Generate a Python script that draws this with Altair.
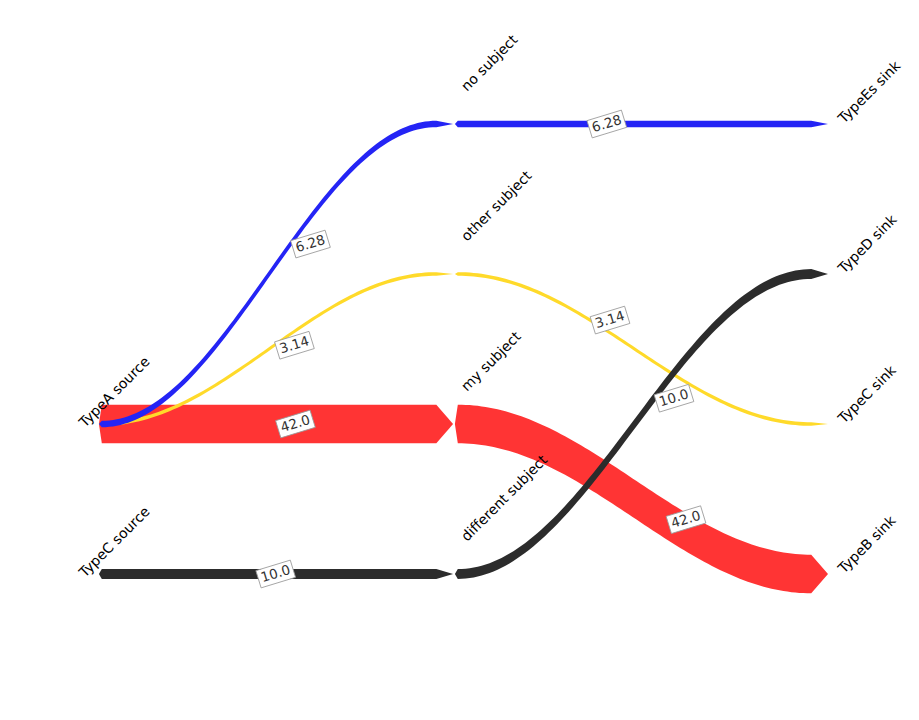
import altair as alt
import pandas as pd
import numpy as np

# ---------------- data ----------------
source_nodes = ["TypeA source", "TypeC source"]
source_rows = [2, 3]
middle_nodes = ["no subject", "other subject", "my subject", "different subject"]
middle_rows = [0, 1, 2, 3]
sink_nodes = ["TypeEs sink", "TypeD sink", "TypeC sink", "TypeB sink"]
sink_rows = [0, 1, 2, 3]

stage1_from = ["TypeA source", "TypeA source", "TypeA source", "TypeC source"]
stage1_to = ["no subject", "other subject", "my subject", "different subject"]
stage1_values = [6.28, 3.14, 42.0, 10.0]

stage2_from = ["no subject", "other subject", "my subject", "different subject"]
stage2_to = ["TypeEs sink", "TypeC sink", "TypeB sink", "TypeD sink"]
stage2_values = [6.28, 3.14, 42.0, 10.0]

# where along each flow its value label sits (fraction of the curve)
stage1_label_pos = [0.564, 0.516, 0.519, 0.460]
stage2_label_pos = [0.365, 0.374, 0.589, 0.555]

# ---------------- style / layout ----------------
flow_color = {
    "no subject": "#2424F5",
    "other subject": "#FFDA2A",
    "my subject": "#FF3434",
    "different subject": "#2C2C2C",
}
draw_order = ["my subject", "other subject", "different subject", "no subject"]

PX_PER_X = 364.0
X0_PX = 100.0
W, H = 919, 720
ROW0_PX, PX_PER_ROW = 124.0, 150.0
x_dom = [-X0_PX / PX_PER_X, (W - X0_PX) / PX_PER_X]
y_dom = [-ROW0_PX / PX_PER_ROW, (H - ROW0_PX) / PX_PER_ROW]

COL_X = [0.0, 0.970, 2.0]        # head tips of each column
TAIL_X = [-0.003, 0.975]         # tail tips of each stage
NOTCH = 0.008
HEAD_LEN = 0.046
N = 90

node_row = {}
for n, r in zip(source_nodes, source_rows):
    node_row[n] = r
for n, r in zip(middle_nodes, middle_rows):
    node_row[n] = r
for n, r in zip(sink_nodes, sink_rows):
    node_row[n] = r


def thick_rows(v):
    return (0.9 * v + 0.8) / PX_PER_ROW


def smooth(t):
    return (1 - np.cos(np.pi * t)) / 2


poly_rows = []
label_rows = []
stages = [
    (stage1_from, stage1_to, stage1_values, stage1_label_pos, stage1_to),
    (stage2_from, stage2_to, stage2_values, stage2_label_pos, stage2_from),
]
for s, (fr, to, vals, lpos, key) in enumerate(stages):
    tail = TAIL_X[s]
    body = tail + NOTCH
    tip = COL_X[s + 1]
    cend = tip - HEAD_LEN
    for f, t_, v, lp, k in zip(fr, to, vals, lpos, key):
        y0, y1 = node_row[f], node_row[t_]
        h = thick_rows(v) / 2
        poly_rows.append(dict(flow=k, stage=s, x=tail, top=y0, bot=y0))
        for tt in np.linspace(0, 1, N):
            xx = body + tt * (cend - body)
            yc = y0 + (y1 - y0) * smooth(tt)
            poly_rows.append(dict(flow=k, stage=s, x=xx, top=yc - h, bot=yc + h))
        poly_rows.append(dict(flow=k, stage=s, x=tip, top=y1, bot=y1))
        lx = body + lp * (cend - body)
        ly = y0 + (y1 - y0) * smooth(lp)
        label_rows.append(dict(x=lx, y=ly, label=f"{v:.3g}" if v < 10 else f"{v:.1f}"))

poly = pd.DataFrame(poly_rows)
labels = pd.DataFrame(label_rows)

xs = alt.Scale(domain=x_dom, nice=False, zero=False)
ys = alt.Scale(domain=y_dom, reverse=True, nice=False, zero=False)

layers = []
for k in draw_order:
    layers.append(
        alt.Chart(poly[poly.flow == k]).mark_area(color=flow_color[k], interpolate="linear", opacity=1).encode(
            x=alt.X("x:Q", scale=xs, axis=None),
            y=alt.Y("top:Q", scale=ys, axis=None),
            y2="bot:Q",
            detail="stage:N",
        )
    )

box_shape = "M-1,-0.5L1,-0.5L1,0.5L-1,0.5Z"
layers.append(
    alt.Chart(labels).mark_point(
        shape=box_shape, size=1296, filled=True, fill="white", stroke="#9a9a9a",
        strokeWidth=0.8, opacity=1, angle=343, xOffset=20,
    ).encode(x=alt.X("x:Q", scale=xs, axis=None), y=alt.Y("y:Q", scale=ys, axis=None))
)
layers.append(
    alt.Chart(labels).mark_text(
        font="DejaVu Sans", fontSize=13.5, color="#333333", angle=343, xOffset=20,
        align="center", baseline="middle",
    ).encode(x=alt.X("x:Q", scale=xs, axis=None), y=alt.Y("y:Q", scale=ys, axis=None), text="label:N")
)

node_sets = [
    (source_nodes, source_rows, COL_X[0] + 0.0, -15, 4),
    (middle_nodes, middle_rows, COL_X[1], 14, -32),
    (sink_nodes, sink_rows, COL_X[2], 16, 0),
]
for names, rows, cx, dx, dy in node_sets:
    nd = pd.DataFrame({"name": names, "row": rows, "x": [cx] * len(names)})
    layers.append(
        alt.Chart(nd).mark_text(
            font="DejaVu Sans", fontSize=14, color="#000000", angle=315, align="left",
            baseline="alphabetic", xOffset=dx, yOffset=dy,
        ).encode(x=alt.X("x:Q", scale=xs, axis=None), y=alt.Y("row:Q", scale=ys, axis=None), text="name:N")
    )

chart = alt.layer(*layers).properties(
    width=W, height=H, padding=0, autosize=alt.AutoSizeParams(type="none"),
).configure_view(stroke=None)

chart.save("out.html", embed_options={"renderer": "svg", "actions": False})
